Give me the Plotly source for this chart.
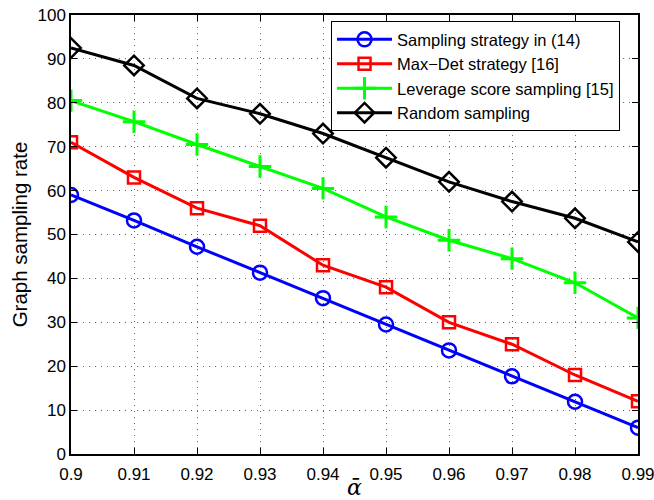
import plotly.graph_objects as go

alpha = [0.90, 0.91, 0.92, 0.93, 0.94, 0.95, 0.96, 0.97, 0.98, 0.99]
strategy14 = [59, 53.2, 47.2, 41.3, 35.5, 29.5, 23.6, 17.7, 11.9, 6]
maxdet16 = [71, 63, 56, 52, 43, 38, 30, 25, 18, 12]
leverage15 = [80.5, 75.7, 70.5, 65.5, 60.5, 54, 48.7, 44.5, 39, 31]
random_s = [92.5, 88.5, 81, 77.5, 73, 67.5, 62, 57.5, 53.7, 48.3]

names = ["Sampling strategy in (14)", "Max\u2212Det strategy [16]",
         "Leverage score sampling [15]", "Random sampling"]
series = [strategy14, maxdet16, leverage15, random_s]
colors = ["#0000ff", "#ff0000", "#00ff00", "#000000"]
symbols = ["circle-open", "square-open", "cross-thin-open", "diamond-open"]
sizes = [14, 12, 16, 15]

fig = go.Figure()
for n, s, c, sym, sz in zip(names, series, colors, symbols, sizes):
    fig.add_trace(go.Scatter(
        x=alpha, y=s, name=n, mode="lines+markers",
        line=dict(color=c, width=3),
        marker=dict(symbol=sym, size=sz, color=c,
                    line=dict(color=c, width=3 if sym.startswith("cross") else 2.5)),
    ))

FONT = "Liberation Sans, Arial, sans-serif"
axis_common = dict(
    showgrid=True, gridcolor="#666666", griddash="1px,5px", gridwidth=1,
    showline=True, linecolor="black", linewidth=1.5, mirror="ticks",
    ticks="inside", ticklen=6, tickcolor="black",
    zeroline=False, ticklabeloverflow="allow", automargin=False,
    tickfont=dict(family=FONT, size=17, color="black"),
)

fig.update_xaxes(range=[0.9, 0.99], tickvals=alpha,
                 ticktext=["0.9"] + [f"{a:.2f}" for a in alpha[1:]],
                 ticklabelstandoff=4,
                 title=dict(text="<i>\u1fb1</i>", standoff=0,
                            font=dict(family="DejaVu Serif, serif", size=22, color="black")),
                 **axis_common)
fig.update_yaxes(range=[0, 100], dtick=10,
                 title=dict(text="Graph sampling rate", standoff=4,
                            font=dict(family=FONT, size=20.5, color="black")),
                 **axis_common)

fig.update_layout(
    width=654, height=500,
    margin=dict(l=71, r=16, t=15, b=46),
    plot_bgcolor="white", paper_bgcolor="white",
    font=dict(family=FONT, color="black"),
    legend=dict(x=0.4586, y=0.986, xanchor="left", yanchor="top",
                bgcolor="white", bordercolor="black", borderwidth=1,
                font=dict(size=16.5, color="black"), tracegroupgap=0,
                itemwidth=55),
    showlegend=True,
)

fig.write_html("out.html", config={"displayModeBar": False},
               post_script="document.body.style.margin='0';document.body.style.overflow='hidden';")
